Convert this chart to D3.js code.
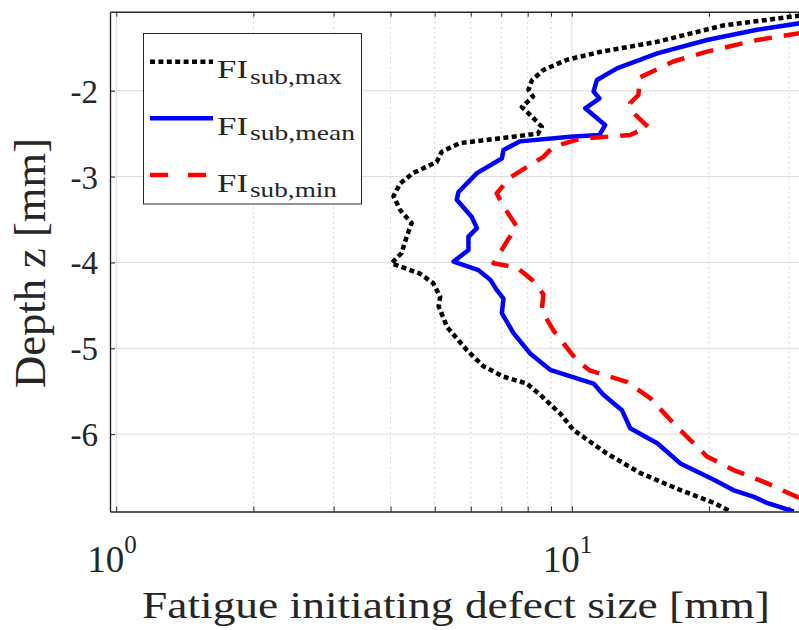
<!DOCTYPE html>
<html>
<head>
<meta charset="utf-8">
<script src="https://cdn.jsdelivr.net/npm/d3@7"></script>
<style>
  body { margin: 0; background: #fff; }
  svg { display: block; }
</style>
</head>
<body>
<svg id="chart" width="799" height="630"></svg>
<script>
// Depth profiles of the fatigue initiating defect size (sub-surface, max / mean / min)
const depthMax = [-1.08, -1.14, -1.24, -1.43, -1.55, -1.64, -1.76, -1.88, -1.99, -2.07, -2.19, -2.30, -2.42, -2.50,
  -2.55, -2.61, -2.71, -2.83, -2.96, -3.08, -3.23, -3.39, -3.54, -3.70, -3.89, -4.01, -4.13, -4.24, -4.40, -4.51,
  -4.75, -5.02, -5.21, -5.33, -5.41, -5.54, -5.76, -5.95, -6.22, -6.45, -6.65, -6.80, -6.90];
const fiMax = [37.5, 30.2, 21.5, 15.4, 11.5, 9.75, 8.65, 8.17, 8.03, 8.22, 7.77, 8.17, 8.59, 8.43,
  7.07, 5.68, 5.18, 5.05, 4.48, 4.20, 4.06, 4.20, 4.45, 4.34, 4.23, 4.02, 4.64, 4.96, 5.14, 5.10,
  5.32, 5.88, 6.40, 7.08, 7.96, 8.52, 9.43, 10.08, 11.9, 14.1, 17.3, 20.5, 22.3];

const depthMean = [-1.08, -1.215, -1.29, -1.41, -1.565, -1.74, -1.875, -2.01, -2.09, -2.205, -2.40, -2.515, -2.535,
  -2.59, -2.69, -2.79, -2.96, -3.18, -3.27, -3.47, -3.60, -3.70, -3.855, -3.99, -4.09, -4.20, -4.32, -4.42, -4.59,
  -4.82, -5.06, -5.25, -5.35, -5.41, -5.54, -5.72, -5.93, -6.105, -6.34, -6.53, -6.65, -6.73, -6.80, -6.90];
const fiMean = [45, 31.6, 25.5, 19.8, 15.4, 12.56, 11.35, 11.16, 11.5, 10.7, 11.83, 11.5, 9.91,
  7.70, 7.08, 7.02, 6.19, 5.64, 5.59, 6.03, 6.19, 5.93, 5.93, 5.50, 6.24, 6.62, 6.84, 7.08, 7.02,
  7.44, 8.10, 8.96, 10.26, 11.16, 11.73, 12.88, 13.43, 15.4, 17.3, 20.5, 22.6, 25.1, 26.8, 30.7];

const depthMin = [-1.08, -1.33, -1.41, -1.545, -1.66, -1.845, -2.05, -2.145, -2.26, -2.42, -2.515, -2.56, -2.65,
  -2.77, -3.01, -3.195, -3.35, -3.58, -3.74, -4.01, -4.06, -4.20, -4.37, -4.56, -4.79, -4.94, -5.14, -5.26,
  -5.39, -5.58, -5.87, -6.03, -6.26, -6.415, -6.57, -6.73, -6.90];
const fiMin = [58, 31.6, 25.5, 19.8, 16.7, 14.1, 14.0, 13.43, 13.65, 14.7, 13.43, 10.43, 9.11,
  8.66, 7.32, 6.84, 7.08, 7.57, 7.23, 6.73, 7.57, 8.17, 8.66, 8.59, 9.11, 9.58, 10.26, 10.97,
  13.2, 14.86, 16.7, 17.9, 19.8, 22.6, 26.8, 31.2, 37.8];

const depthTicks = [-6, -5, -4, -3, -2];
const sizeDecades = [1, 10];
const sizeMinor = [2, 3, 4, 5, 6, 7, 8, 9, 20, 30];
const xDomain = [0.969, 32];
const yDomain = [-6.9, -1.08];

const seriesNames = ["sub,max", "sub,mean", "sub,min"];
const seriesColors = ["#000000", "#0000ff", "#ff0000"];

const FONT = '"Liberation Serif", "Times New Roman", serif';
const TEXT_COLOR = "#262626";

const svg = d3.select("#chart");
const box = { left: 110, right: 802, top: 11.7, bottom: 511.5 };
const axisColor = "#262626";

const x = d3.scaleLog().domain(xDomain).range([box.left, box.right]);
const y = d3.scaleLinear().domain(yDomain).range([box.bottom, box.top]);

function label(sel) {
  return sel.style("font-family", FONT).attr("fill", TEXT_COLOR);
}

svg.append("defs").append("clipPath").attr("id", "plot-clip")
  .append("rect")
  .attr("x", box.left).attr("y", box.top)
  .attr("width", box.right - box.left).attr("height", box.bottom - box.top);

// grid: dotted minor verticals, solid decade verticals and depth horizontals
const grid = svg.append("g");
grid.selectAll("line.minor").data(sizeMinor).join("line")
  .attr("class", "minor")
  .attr("x1", d => x(d)).attr("x2", d => x(d))
  .attr("y1", box.top).attr("y2", box.bottom)
  .attr("stroke", "#d2d2d2").attr("stroke-width", 1).attr("stroke-dasharray", "2,3");
grid.selectAll("line.major").data(sizeDecades).join("line")
  .attr("class", "major")
  .attr("x1", d => x(d)).attr("x2", d => x(d))
  .attr("y1", box.top).attr("y2", box.bottom)
  .attr("stroke", "#dcdcdc").attr("stroke-width", 1);
grid.selectAll("line.hgrid").data(depthTicks).join("line")
  .attr("class", "hgrid")
  .attr("x1", box.left).attr("x2", box.right)
  .attr("y1", d => y(d)).attr("y2", d => y(d))
  .attr("stroke", "#dcdcdc").attr("stroke-width", 1);

// profiles
const series = [
  { depth: depthMax, fi: fiMax, color: seriesColors[0], dash: "5,3.4" },
  { depth: depthMean, fi: fiMean, color: seriesColors[1], dash: null },
  { depth: depthMin, fi: fiMin, color: seriesColors[2], dash: "18,12" }
];
const line = d3.line().x(d => x(d[1])).y(d => y(d[0]));
const curves = svg.append("g").attr("clip-path", "url(#plot-clip)");
series.forEach(s => {
  const pts = s.depth.map((z, i) => [z, s.fi[i]]);
  curves.append("path")
    .datum(pts)
    .attr("d", line)
    .attr("fill", "none")
    .attr("stroke", s.color)
    .attr("stroke-width", 4.5)
    .attr("stroke-linejoin", "round")
    .attr("stroke-dasharray", s.dash);
});

// axes with inward ticks on all visible sides
const allX = sizeDecades.concat(sizeMinor);
function styleAxis(g) {
  g.selectAll("path.domain").attr("stroke", axisColor).attr("stroke-width", 1.4);
  g.selectAll(".tick line").attr("stroke", axisColor).attr("stroke-width", 1);
  g.selectAll(".tick text").remove();
}
svg.append("g").attr("transform", `translate(0,${box.bottom})`)
  .call(d3.axisBottom(x).tickValues(allX).tickSizeInner(-5).tickSizeOuter(0).tickFormat(""))
  .call(styleAxis);
svg.append("g").attr("transform", `translate(0,${box.top})`)
  .call(d3.axisTop(x).tickValues(allX).tickSizeInner(-5).tickSizeOuter(0).tickFormat(""))
  .call(styleAxis);
svg.append("g").attr("transform", `translate(${box.left},0)`)
  .call(d3.axisLeft(y).tickValues(depthTicks).tickSizeInner(-5).tickSizeOuter(0).tickFormat(""))
  .call(styleAxis);

// tick labels
svg.append("g").selectAll("text").data(depthTicks).join("text")
  .call(label)
  .attr("x", 98).attr("y", d => y(d) + 12)
  .attr("text-anchor", "end")
  .attr("font-size", 33)
  .text(d => String(d));

const xl = svg.append("g").selectAll("g").data(sizeDecades).join("g");
xl.append("text")
  .call(label)
  .attr("x", d => x(d) + 8).attr("y", 572)
  .attr("text-anchor", "end").attr("font-size", 37)
  .text("10");
xl.append("text")
  .call(label)
  .attr("x", d => x(d) + 8).attr("y", 553)
  .attr("text-anchor", "start").attr("font-size", 25)
  .text(d => String(Math.round(Math.log10(d))));

// axis titles
svg.append("text")
  .call(label)
  .attr("x", 142).attr("y", 618)
  .attr("font-size", 38)
  .attr("textLength", 628).attr("lengthAdjust", "spacingAndGlyphs")
  .text("Fatigue initiating defect size [mm]");
svg.append("text")
  .call(label)
  .attr("transform", "translate(45,388) rotate(-90)")
  .attr("font-size", 44)
  .attr("textLength", 250).attr("lengthAdjust", "spacingAndGlyphs")
  .text("Depth z [mm]");

// legend
const legend = svg.append("g");
legend.append("rect")
  .attr("x", 143.5).attr("y", 33.5).attr("width", 218).attr("height", 170.5)
  .attr("fill", "#fff").attr("stroke", axisColor).attr("stroke-width", 1);
const rowLine = [61.7, 118.3, 175];
const legendDash = ["5,3.4", null, "18,20"];
const subLen = [92, 105, 87];
seriesNames.forEach((name, i) => {
  legend.append("line")
    .attr("x1", 150).attr("x2", 213)
    .attr("y1", rowLine[i]).attr("y2", rowLine[i])
    .attr("stroke", seriesColors[i]).attr("stroke-width", 4.5)
    .attr("stroke-dasharray", legendDash[i]);
  legend.append("text")
    .call(label)
    .attr("x", 217).attr("y", rowLine[i] + 16.5)
    .attr("font-size", 26)
    .attr("textLength", 31).attr("lengthAdjust", "spacingAndGlyphs")
    .text("FI");
  legend.append("text")
    .call(label)
    .attr("x", 250).attr("y", rowLine[i] + 22)
    .attr("font-size", 22)
    .attr("textLength", subLen[i]).attr("lengthAdjust", "spacingAndGlyphs")
    .text(name);
});
</script>
</body>
</html>
